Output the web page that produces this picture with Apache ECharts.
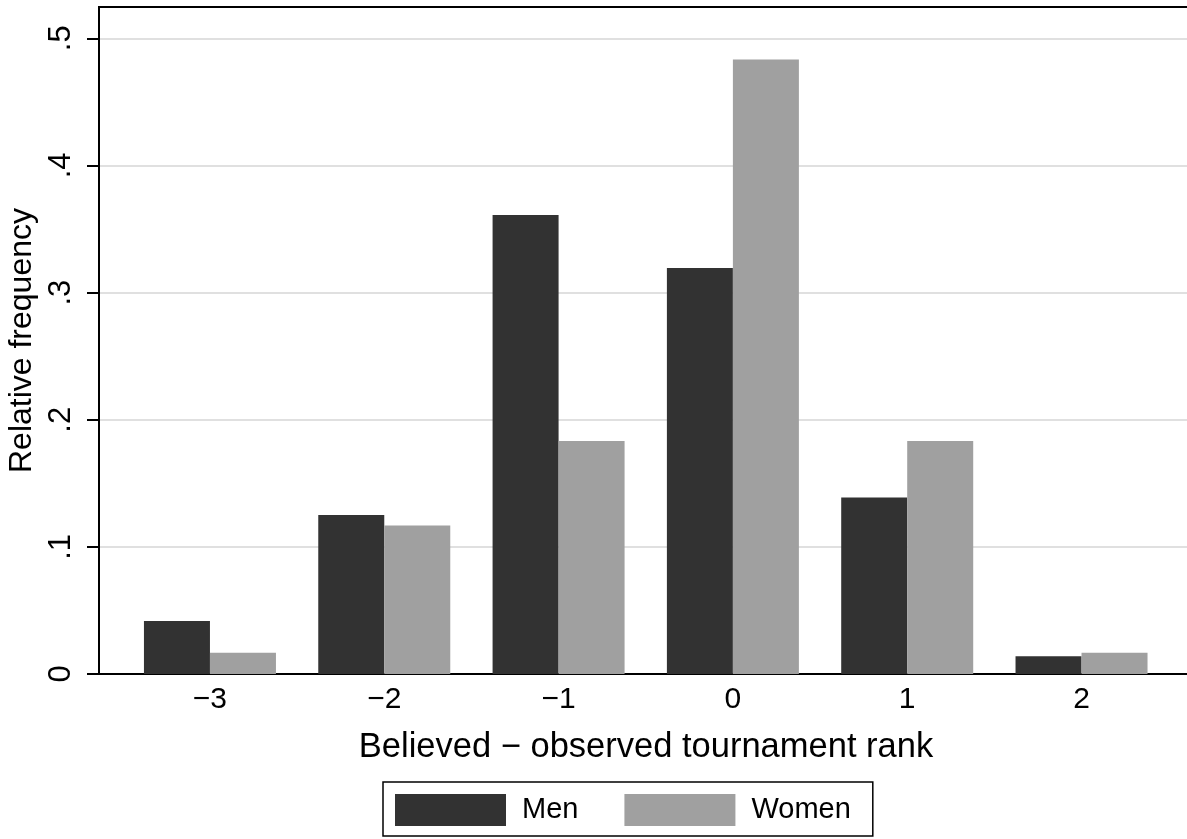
<!DOCTYPE html>
<html>
<head>
<meta charset="utf-8">
<script src="https://cdn.jsdelivr.net/npm/echarts@6/dist/echarts.min.js"></script>
<style>html,body{margin:0;padding:0;background:#fff}#c{width:1187px;height:839px}</style>
</head>
<body>
<div id="c"></div>
<script>
const ranks = [-3, -2, -1, 0, 1, 2];
const men = [0.0417, 0.125, 0.3611, 0.3194, 0.1389, 0.0139];
const women = [0.0167, 0.1167, 0.1833, 0.4833, 0.1833, 0.0167];
const yTicks = [0, 0.1, 0.2, 0.3, 0.4, 0.5];
const seriesNames = ['Men', 'Women'];
const xTitle = 'Believed \u2212 observed tournament rank';
const yTitle = 'Relative frequency';

const FONT = '"Liberation Sans", Arial, Helvetica, sans-serif';
const chart = echarts.init(document.getElementById('c'), null, {renderer: 'canvas'});
const fmtX = v => (v < 0 ? '\u2212' + Math.abs(v) : String(v));
const fmtY = v => (v === 0 ? '0' : String(Math.round(v * 10) / 10).replace(/^0/, ''));

chart.setOption({
  animation: false,
  backgroundColor: '#fff',
  textStyle: {fontFamily: FONT},
  grid: {left: 99, right: -6, top: 7, bottom: 165, show: true, borderColor: '#000', borderWidth: 2,
         containLabel: false, outerBoundsMode: 'none'},
  legend: {
    data: seriesNames,
    left: 383, top: 782,
    orient: 'horizontal',
    itemWidth: 111, itemHeight: 32, itemGap: 46,
    padding: [12, 22, 10, 12],
    borderColor: '#000', borderWidth: 1.5,
    icon: 'rect',
    textStyle: {fontFamily: FONT, fontSize: 29, color: '#000', padding: [0, 0, 0, 11]}
  },
  xAxis: {
    type: 'value',
    min: -3.6365, max: 2.6395,
    name: xTitle, nameLocation: 'middle', nameGap: 56,
    nameTextStyle: {fontFamily: FONT, fontSize: 34.5, color: '#000'},
    axisLine: {show: true, onZero: false, lineStyle: {color: '#000', width: 2}},
    axisTick: {show: false},
    splitLine: {show: false},
    axisLabel: {customValues: ranks, formatter: fmtX, fontFamily: FONT, fontSize: 30, color: '#000', margin: 11}
  },
  yAxis: {
    type: 'value',
    min: 0, max: 0.5246,
    name: yTitle, nameLocation: 'middle', nameGap: 56, nameRotate: 90,
    nameTextStyle: {fontFamily: FONT, fontSize: 32, color: '#000'},
    axisLine: {show: true, onZero: false, lineStyle: {color: '#000', width: 2}},
    axisTick: {show: true, length: 12, customValues: yTicks, lineStyle: {color: '#000', width: 2}},
    axisLabel: {customValues: yTicks, formatter: fmtY, rotate: 90, fontFamily: FONT, fontSize: 31, color: '#000', margin: 22},
    splitLine: {show: true, lineStyle: {color: '#e0e0e0', width: 2}},
    interval: 0.1
  },
  series: [
    {name: seriesNames[0], type: 'bar', barWidth: 66, barGap: '0%', itemStyle: {color: '#323232'},
     data: ranks.map((r, i) => [r, men[i]])},
    {name: seriesNames[1], type: 'bar', barWidth: 66, barGap: '0%', itemStyle: {color: '#a0a0a0'},
     data: ranks.map((r, i) => [r, women[i]])}
  ]
});
</script>
</body>
</html>
